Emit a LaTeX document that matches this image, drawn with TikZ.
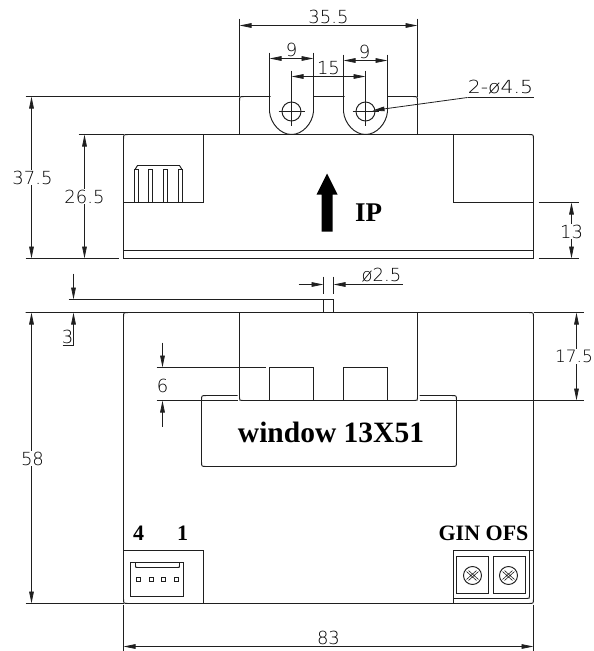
\documentclass[tikz,border=0pt]{standalone}
\usepackage{fontspec}
\setmainfont{Liberation Serif}
\newfontfamily\cadfont{DejaVu Sans ExtraLight}
\usetikzlibrary{arrows.meta}
\definecolor{ln}{gray}{0.12}
\tikzset{
 x=1pt,y=-1pt,
 outl/.style={draw=ln,line width=0.95pt},
 dimln/.style={draw=ln,line width=0.8pt},
 dimarr/.style={dimln,{Triangle[length=12pt,width=4.6pt]}-{Triangle[length=12pt,width=4.6pt]}},
 onearr/.style={dimln,-{Triangle[length=12pt,width=4.6pt]}},
 dimtxt/.style={font=\cadfont\fontsize{18}{18}\selectfont,inner sep=0pt,text=black},
 dimbg/.style={dimtxt,fill=white,inner sep=1pt},
 boldtxt/.style={font=\bfseries\fontsize{22}{22}\selectfont,inner sep=0pt,text=black},
}
\begin{document}
\begin{tikzpicture}
\useasboundingbox (0,0) rectangle (594,651);
\begin{scope}[shift={(0.5,0.5)}]
% --- top view: tab
\draw[outl] (239,134) -- (239,101) .. controls (239,96) .. (244,96) -- (412,96) .. controls (417,96) .. (417,101) -- (417,134);
% slots
\draw[outl,fill=white] (269,96) -- (269,111) .. controls (270,123) and (280,134) .. (291,134) .. controls (302,134) and (312,123) .. (313,111) -- (313,96);
\draw[outl,fill=white] (343,96) -- (343,111) .. controls (344,123) and (354,134) .. (365,134) .. controls (376,134) and (386,123) .. (387,111) -- (387,96);
\draw[white,line width=1.6pt] (270,96) -- (312,96) (344,96) -- (386,96);
\node[outl,circle,minimum size=19pt,inner sep=0pt] (holeL) at (291,111) {};
\node[outl,circle,minimum size=19pt,inner sep=0pt] (holeR) at (365,111) {};
\draw[dimln] (278,111) -- (304,111) (352,111) -- (378,111) (291,70) -- (291,125) (365,70) -- (365,125);
% body
\draw[outl] (123,258) -- (123,139) .. controls (123,134) .. (128,134) -- (528,134) .. controls (533,134) .. (533,139) -- (533,258) -- cycle;
\draw[outl] (123,250) -- (533,250);
\draw[outl] (203,134) -- (203,202) -- (123,202);
\draw[outl] (453,134) -- (453,202) -- (533,202);
% terminal teeth
\foreach \a in {134,148,163,178}{\draw[outl] (\a,202) -- (\a,169) -- (\a+4,169) -- (\a+4,202);}
\draw[outl] (134.5,169) -- (137,165) -- (179,165) -- (181.5,169);
% current arrow
\fill[black] (321,231) -- (321,194) -- (316,194) -- (326.5,173) -- (337,194) -- (332,194) -- (332,231) -- cycle;
\node[boldtxt,font=\bfseries\fontsize{27}{27}\selectfont] (ip) at (368,212) {IP};
% top dims
\coordinate (a1) at (239,25); \coordinate (a2) at (417,25);
\draw[dimln] (239,18) -- (239,96) (417,18) -- (417,96);
\draw[dimarr] (a1) -- (a2);
\node[dimtxt] (t355) at (328,16) {35.5};
\draw[dimln] (269,52) -- (269,96) (313,52) -- (313,96) (343,54) -- (343,96) (387,54) -- (387,96);
\coordinate (b1) at (269,58); \coordinate (b2) at (313,58);
\coordinate (c1) at (343,60); \coordinate (c2) at (387,60);
\coordinate (d1) at (291,76); \coordinate (d2) at (365,76);
\draw[dimarr] (b1) -- (b2);
\draw[dimarr] (c1) -- (c2);
\draw[dimarr] (d1) -- (d2);
\node[dimtxt] (t9a) at (291,49) {9};
\node[dimtxt] (t9b) at (364,51) {9};
\node[dimtxt] (t15) at (328,68) {15};
\coordinate (lead) at (467,97);
\draw[dimln] (533,97) -- (lead);
\draw[onearr] (lead) -- (372,110);
\node[dimtxt,xscale=1.13] (thole) at (500,87) {2-ø4.5};
% left dims top
\draw[dimln] (25,96) -- (239,96) (78,134) -- (123,134) (25,258) -- (118,258);
\coordinate (e1) at (31,96); \coordinate (e2) at (31,258);
\coordinate (f1) at (84,134); \coordinate (f2) at (84,258);
\draw[dimarr] (e1) -- (e2);
\draw[dimarr] (f1) -- (f2);
\node[dimbg] (t375) at (32,177) {37.5};
\node[dimbg] (t265) at (84,196) {26.5};
% right 13
\draw[dimln] (538,202) -- (578,202) (538,258) -- (578,258);
\coordinate (g1) at (571,202); \coordinate (g2) at (571,258);
\draw[dimarr] (g1) -- (g2);
\node[dimbg] (t13) at (571,231) {13};
% --- bottom view
\draw[outl] (68,299) -- (333,299) -- (333,312) (323,299) -- (323,312);
\draw[outl] (25,312) -- (528,312) .. controls (533,312) .. (533,317) -- (533,598) .. controls (533,603) .. (528,603) -- (128,603) .. controls (123,603) .. (123,598) -- (123,317) .. controls (123,312) .. (128,312);
% pin dim
\draw[dimln] (323,276) -- (323,293) (333,276) -- (333,293);
\coordinate (h1) at (298,284); \coordinate (h2) at (323,284); \coordinate (h3) at (402,284); \coordinate (h4) at (333,284);
\draw[onearr] (h1) -- (h2);
\draw[onearr] (h3) -- (h4);
\node[dimtxt] (t25) at (381,275) {ø2.5};
% dim 3
\coordinate (i1) at (73,273); \coordinate (i2) at (73,299); \coordinate (i3) at (73,345); \coordinate (i4) at (73,312); \coordinate (i5) at (62,345);
\draw[onearr] (i1) -- (i2);
\draw[onearr] (i3) -- (i4);
\draw[dimln] (i5) -- (i3);
\node[dimtxt] (t3) at (67,336) {3};
% tab in window
\draw[outl] (239,312) -- (239,397) .. controls (239,400) .. (242,400) -- (414,400) .. controls (417,400) .. (417,397) -- (417,312);
\draw[outl] (269,400) -- (269,367) -- (313,367) -- (313,400);
\draw[outl] (343,400) -- (343,367) -- (387,367) -- (387,400);
% window
\draw[outl] (237,395) -- (206,395) .. controls (201,395) .. (201,400) -- (201,461) .. controls (201,466) .. (206,466) -- (451,466) .. controls (456,466) .. (456,461) -- (456,400) .. controls (456,395) .. (451,395) -- (419,395);
\node[boldtxt,font=\bfseries\fontsize{29.5}{29.5}\selectfont] (win) at (330.5,432) {window 13X51};
% dim 6
\draw[dimln] (156,367) -- (265,367) (156,400) -- (237,400);
\coordinate (j1) at (162,342); \coordinate (j2) at (162,367); \coordinate (j3) at (162,426); \coordinate (j4) at (162,400);
\draw[onearr] (j1) -- (j2);
\draw[onearr] (j3) -- (j4);
\node[dimtxt] (t6) at (162,385) {6};
% dim 17.5
\draw[dimln] (533,312) -- (583,312) (419,400) -- (583,400);
\coordinate (k1) at (576,312); \coordinate (k2) at (576,400);
\draw[dimarr] (k1) -- (k2);
\node[dimbg,font=\cadfont\fontsize{17}{17}\selectfont] (t175) at (573.5,356) {17.5};
% dim 58
\draw[dimln] (25,603) -- (123,603);
\coordinate (l1) at (31,312); \coordinate (l2) at (31,603);
\draw[dimarr] (l1) -- (l2);
\node[dimbg] (t58) at (32,458) {58};
% dim 83
\draw[dimln] (123,604) -- (123,651) (533,604) -- (533,651);
\coordinate (m1) at (123,646); \coordinate (m2) at (533,646);
\draw[dimarr] (m1) -- (m2);
\node[dimtxt] (t83) at (328,637) {83};
% connector left
\draw[outl] (123,550) -- (203,550) -- (203,603);
\draw[outl,line width=1.1pt] (130,562) rectangle (183,596);
\draw[outl] (135,562) -- (135,565) .. controls (135,567) .. (137,567) -- (177,567) .. controls (179,567) .. (179,565) -- (179,562);
\foreach \a in {138,151,163,176}{\draw[outl,line width=0.7pt] (\a-2,577) rectangle (\a+2,581);}
\node[boldtxt] (n4) at (138,533) {4};
\node[boldtxt] (n1) at (182,533) {1};
% connector right
\draw[outl] (453,603) -- (453,550) -- (533,550);
\draw[outl] (453,598) -- (526,598) .. controls (529,598) .. (529,595) -- (529,550);
\draw[outl,line width=1.1pt] (456,556) rectangle (488,593);
\draw[outl,line width=1.1pt] (493,556) rectangle (525,593);
\foreach \cx in {472,508}{
 \draw[outl] (\cx,575) circle (9);
 \draw[outl,line width=0.6pt] (\cx-6,571) -- (\cx+4,580) (\cx-4,570) -- (\cx+6,579) (\cx-6,579) -- (\cx+4,570) (\cx-4,580) -- (\cx+6,571);
}
\node[boldtxt] (gin) at (483,533) {GIN OFS};
\end{scope}
\end{tikzpicture}
\end{document}
